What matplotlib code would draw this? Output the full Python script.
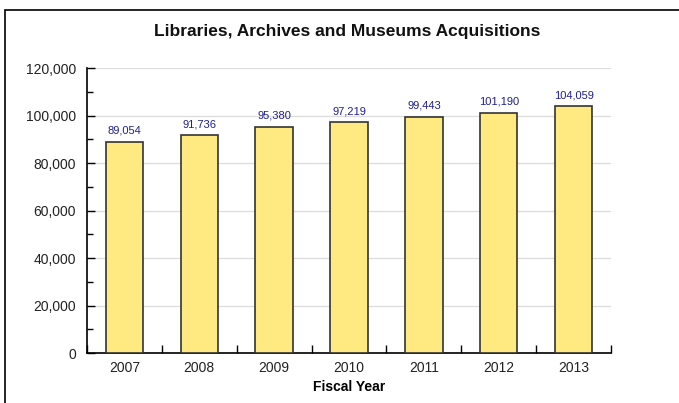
import matplotlib.pyplot as plt
from matplotlib.patches import Rectangle
from matplotlib.ticker import MultipleLocator, FuncFormatter

years = ['2007', '2008', '2009', '2010', '2011', '2012', '2013']
acquisitions = [89054, 91736, 95380, 97219, 99443, 101190, 104059]

plt.rcParams['font.family'] = ['Liberation Sans', 'DejaVu Sans']

fig = plt.figure(figsize=(6.79, 4.03), dpi=100)
ax = fig.add_axes([0.128, 0.124, 0.772, 0.707])

# cadre de la figure (bords droit et bas hors de l'image)
fig.patches.append(Rectangle((5 / 679, -0.1), 1.2, 1.1 - 10 / 403, transform=fig.transFigure,
                             fill=False, edgecolor='black', lw=1.2))

x = range(len(years))
bars = ax.bar(x, acquisitions, width=0.5, color='#FFE980', edgecolor='#333333', lw=1.2, zorder=3)
for xi, v in zip(x, acquisitions):
    ax.text(xi, v + 2500, f'{v:,}', ha='center', va='bottom', fontsize=8, color='#1f1f8f')

ax.set_xlim(-0.5, len(years) - 0.5)
ax.set_ylim(0, 120000)
ax.yaxis.set_major_locator(MultipleLocator(20000))
ax.yaxis.set_minor_locator(MultipleLocator(10000))
ax.yaxis.set_major_formatter(FuncFormatter(lambda v, p: f'{int(v):,}'))
ax.grid(axis='y', color='#dddddd', lw=0.9, zorder=0)

ax.set_xticks(list(x))
ax.set_xticklabels(years)
ax.set_xticks([i + 0.5 for i in range(-1, len(years))], minor=True)
ax.tick_params(axis='x', which='major', length=0, pad=6, labelsize=10, colors='#222222')
ax.tick_params(axis='x', which='minor', direction='in', length=6, width=1)
ax.tick_params(axis='y', which='major', direction='in', length=6, width=1, labelsize=10, pad=8, labelcolor='#222222')
ax.tick_params(axis='y', which='minor', direction='in', length=4, width=1)

for s in ['top', 'right']:
    ax.spines[s].set_visible(False)
ax.spines['left'].set_linewidth(1.2)
ax.spines['bottom'].set_linewidth(1.2)

ax.set_xlabel('Fiscal Year', fontsize=10, fontweight='bold', labelpad=3)
fig.text(0.511, 0.923, 'Libraries, Archives and Museums Acquisitions', ha='center', va='center',
         fontsize=12.5, fontweight='bold', color='#111111')

fig.savefig('out.png', dpi=100)
